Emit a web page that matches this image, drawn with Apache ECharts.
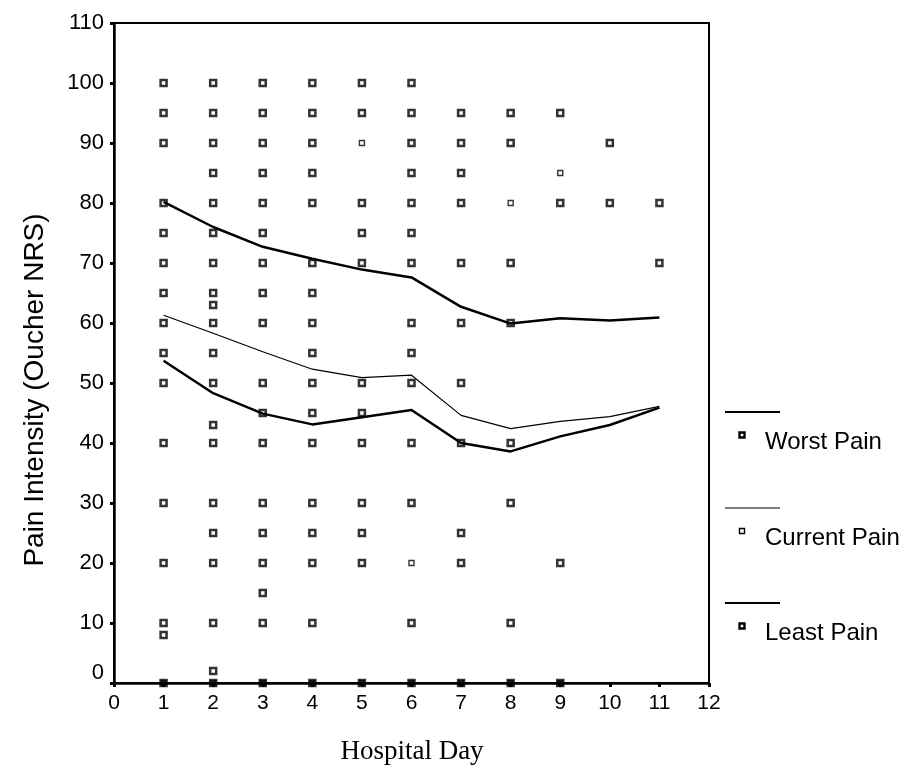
<!DOCTYPE html>
<html>
<head>
<meta charset="utf-8">
<script src="https://cdn.jsdelivr.net/npm/echarts@6/dist/echarts.min.js"></script>
<style>
html,body{margin:0;padding:0;background:#fff;}
#chart{width:901px;height:782px;}
</style>
</head>
<body>
<div id="chart"></div>
<script>
// ---- data ----
const days = [1, 2, 3, 4, 5, 6, 7, 8, 9, 10, 11];
const worstPainMean   = [80.2, 76.0, 72.7, 70.7, 68.9, 67.6, 62.7, 59.9, 60.8, 60.4, 60.9];
const currentPainMean = [61.3, 58.3, 55.2, 52.3, 50.9, 51.3, 44.6, 42.4, 43.6, 44.4, 46.1];
const leastPainMean   = [53.7, 48.3, 44.9, 43.1, 44.3, 45.5, 40.0, 38.6, 41.1, 43.0, 45.9];

// individual patient ratings, one list per hospital day
const ratingsDay1  = [100, 95, 90, 80, 75, 70, 65, 60, 55, 50, 40, 30, 20, 10, 8, 0];
const ratingsDay2  = [100, 95, 90, 85, 80, 75, 70, 65, 63, 60, 55, 50, 43, 40, 30, 25, 20, 10, 2, 0];
const ratingsDay3  = [100, 95, 90, 85, 80, 75, 70, 65, 60, 50, 45, 40, 30, 25, 20, 15, 10, 0];
const ratingsDay4  = [100, 95, 90, 85, 80, 70, 65, 60, 55, 50, 45, 40, 30, 25, 20, 10, 0];
const ratingsDay5  = [100, 95, 80, 75, 70, 50, 45, 40, 30, 25, 20, 0];
const ratingsDay6  = [100, 95, 90, 85, 80, 75, 70, 60, 55, 50, 40, 30, 10, 0];
const ratingsDay7  = [95, 90, 85, 80, 70, 60, 50, 40, 25, 20, 0];
const ratingsDay8  = [95, 90, 70, 60, 40, 30, 10, 0];
const ratingsDay9  = [95, 80, 20, 0];
const ratingsDay10 = [90, 80];
const ratingsDay11 = [80, 70];
// lighter-printed ratings [day, value]
const lightRatings = [[5, 90], [6, 20], [8, 80], [9, 85]];

const xTicks = [0, 12, 1];      // min, max, interval
const yTicks = [0, 110, 10];

const legendNames = ['Worst Pain', 'Current Pain', 'Least Pain'];

// ---- build ----
const ratingsByDay = [ratingsDay1, ratingsDay2, ratingsDay3, ratingsDay4, ratingsDay5, ratingsDay6,
                      ratingsDay7, ratingsDay8, ratingsDay9, ratingsDay10, ratingsDay11];
const ratingPoints = [];
ratingsByDay.forEach((vals, i) => vals.forEach(v => {
  ratingPoints.push(v === 0 ? {value: [days[i], v], itemStyle: {color: '#000'}} : [days[i], v]);
}));

const pair = arr => days.map((d, i) => [d, arr[i]]);

const FONT = '"Liberation Sans", Arial, sans-serif';
const chart = echarts.init(document.getElementById('chart'), null, {renderer: 'canvas'});

const legendTop = [412, 508, 603];
const legendWidths = [2, 1, 2];
const graphic = [];
legendNames.forEach((name, i) => {
  const y = legendTop[i];
  graphic.push({type: 'line', shape: {x1: 725, y1: y, x2: 780, y2: y},
    style: {stroke: '#000', lineWidth: legendWidths[i]}});
  graphic.push({type: 'rect', shape: {x: 739.5, y: y + 20.5, width: 5, height: 5},
    style: {fill: '#fff', stroke: '#000', lineWidth: i === 1 ? 1.4 : 2.4}});
  graphic.push({type: 'text', x: 765, y: y + 30,
    style: {text: name, font: '24px ' + FONT, fill: '#000', textVerticalAlign: 'middle', textAlign: 'left'}});
});
graphic.push({type: 'text', x: 35, y: 390, rotation: Math.PI / 2,
  style: {text: 'Pain Intensity (Oucher NRS)', font: '28px ' + FONT, fill: '#000',
    textAlign: 'center', textVerticalAlign: 'middle'}});
graphic.push({type: 'text', x: 412, y: 752,
  style: {text: 'Hospital Day', font: '27px "Liberation Serif", "Times New Roman", serif', fill: '#000',
    textAlign: 'center', textVerticalAlign: 'middle'}});

const option = {
  backgroundColor: '#fff',
  animation: false,
  grid: {left: 114, right: 192, top: 23, bottom: 99, show: true, borderColor: '#000', borderWidth: 2,
         backgroundColor: 'transparent'},
  xAxis: {
    type: 'value', min: xTicks[0], max: xTicks[1], interval: xTicks[2],
    axisLine: {show: true, lineStyle: {color: '#000', width: 2.5}},
    axisTick: {show: true, length: 4, lineStyle: {color: '#000', width: 3}},
    axisLabel: {color: '#000', fontSize: 21, fontFamily: FONT, margin: 10},
    splitLine: {show: false}
  },
  yAxis: {
    type: 'value', min: yTicks[0], max: yTicks[1], interval: yTicks[2],
    axisLine: {show: true, lineStyle: {color: '#000', width: 2.5}},
    axisTick: {show: true, length: 4, lineStyle: {color: '#000', width: 3}},
    axisLabel: {color: '#000', fontSize: 22, fontFamily: FONT, margin: 10,
      formatter: v => v === 0 ? '{z|0}' : String(v),
      rich: {z: {fontSize: 22, fontFamily: FONT, color: '#000', padding: [0, 0, 20, 0]}}},
    splitLine: {show: false}
  },
  graphic: graphic,
  series: [
    {type: 'scatter', name: 'ratings', data: ratingPoints, symbol: 'rect', symbolSize: 6,
     itemStyle: {color: '#fff', borderColor: '#000', borderWidth: 2.5}, z: 3},
    {type: 'scatter', name: 'light ratings', data: lightRatings, symbol: 'rect', symbolSize: 5,
     itemStyle: {color: '#fff', borderColor: '#000', borderWidth: 1.4}, z: 3},
    {type: 'line', name: legendNames[0], data: pair(worstPainMean), showSymbol: false, symbol: 'none',
     lineStyle: {color: '#000', width: 2.5}, z: 4},
    {type: 'line', name: legendNames[1], data: pair(currentPainMean), showSymbol: false, symbol: 'none',
     lineStyle: {color: '#000', width: 1.2}, z: 4},
    {type: 'line', name: legendNames[2], data: pair(leastPainMean), showSymbol: false, symbol: 'none',
     lineStyle: {color: '#000', width: 2.5}, z: 4}
  ]
};
chart.setOption(option);
</script>
</body>
</html>
